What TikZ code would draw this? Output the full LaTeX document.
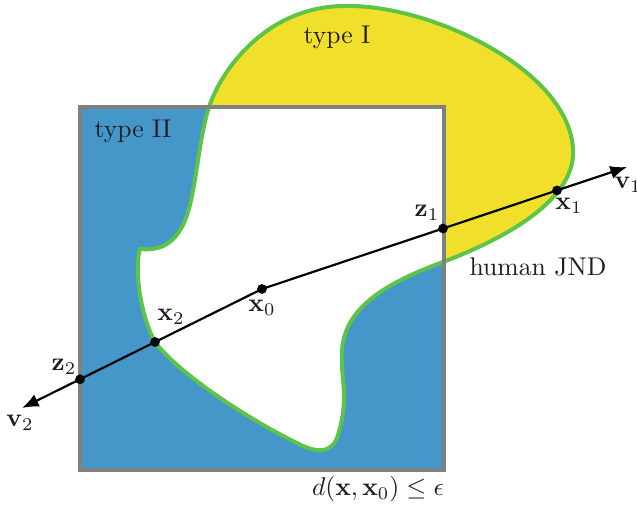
\documentclass[tikz,border=0pt]{standalone}
\usepackage{amsmath,amssymb}
\usetikzlibrary{arrows.meta}
\definecolor{blueF}{RGB}{69,151,201}
\definecolor{yellowF}{RGB}{240,224,44}
\definecolor{greenL}{RGB}{94,196,72}
\definecolor{grayL}{RGB}{128,128,128}
\definecolor{txt}{RGB}{30,30,30}
\tikzset{
  boxline/.style={draw=grayL, line width=1.5pt},
  jndline/.style={draw=greenL, line width=1.55pt},
  ray/.style={draw=black, line width=0.85pt, -{Latex[length=6.5pt,width=5.2pt]}},
  dot/.style={circle, fill=black, inner sep=0pt, minimum size=3.8pt},
  lab/.style={text=txt, inner sep=0pt}
}
\def\blobpath{(209,107) .. controls (222,68) and (268,6) .. (345,6)
 .. controls (430,4) and (570,70) .. (573,150)
 .. controls (575,185) and (540,225) .. (443,262)
 .. controls (380,285) and (345,310) .. (342,350)
 .. controls (340,380) and (350,395) .. (338,435)
 .. controls (332,455) and (315,453) .. (295,442)
 .. controls (250,420) and (180,375) .. (155,342)
 .. controls (138,310) and (135,265) .. (140,249)
 .. controls (160,251) and (180,245) .. (190,205)
 .. controls (198,170) and (200,135) .. cycle}
\begin{document}
\begin{tikzpicture}[x=0.39pt, y=-0.39pt]
\useasboundingbox (0,0) rectangle (637,508);
\coordinate (sqA) at (80,107);
\coordinate (sqB) at (444,470);
% regions
\fill[blueF] (sqA) rectangle (sqB);
\fill[yellowF] \blobpath;
\begin{scope}
  \clip (sqA) rectangle (sqB);
  \fill[white] \blobpath;
\end{scope}
\path[jndline] \blobpath;
\path[boxline] (sqA) rectangle (sqB);
% points
\coordinate (v1) at (627,167);
\coordinate (v2) at (22,408);
\node[dot] (x0) at (262,289) {};
\node[dot] (z1) at (443,228.5) {};
\node[dot] (x1) at (557,190.4) {};
\node[dot] (x2) at (155,342) {};
\node[dot] (z2) at (80,379.3) {};
\draw[ray] (x0.center) -- (v1);
\draw[ray] (x0.center) -- (v2);
% labels
\node[lab] (tI) at (337,37) {type I};
\node[lab] (tII) at (133,131) {type II};
\node[lab] (hj) at (538,267) {human JND};
\node[lab] (lz1) at (427,213) {$\mathbf{z}_1$};
\node[lab] (lx1) at (569,206) {$\mathbf{x}_1$};
\node[lab, anchor=west] (lv1) at (614,185) {$\mathbf{v}_1$};
\node[lab] (lx0) at (262,308) {$\mathbf{x}_0$};
\node[lab] (lx2) at (171,317) {$\mathbf{x}_2$};
\node[lab] (lz2) at (64,367) {$\mathbf{z}_2$};
\node[lab] (lv2) at (20,423) {$\mathbf{v}_2$};
\node[lab] (dd) at (378,489) {$d(\mathbf{x},\mathbf{x}_0)\leq\epsilon$};
\end{tikzpicture}
\end{document}
